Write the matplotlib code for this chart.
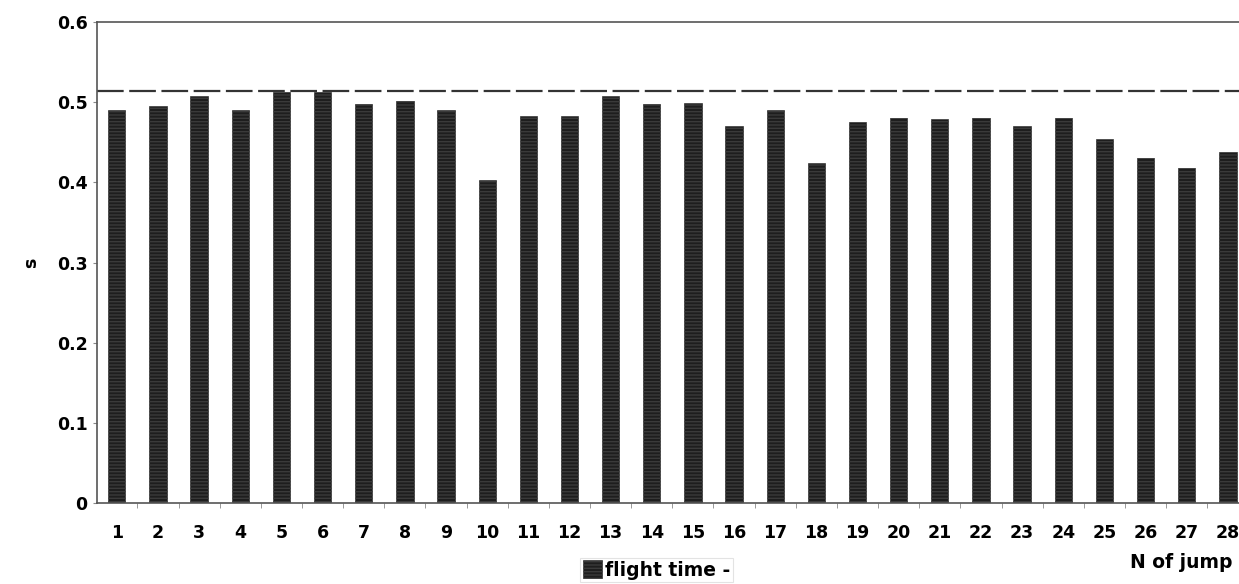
import numpy as np
import matplotlib.pyplot as plt

plt.rcParams['font.family'] = ['DejaVu Sans']
plt.rcParams['font.weight'] = 'bold'

# numero del salto e tempo di volo (s)
jumps = list(range(1, 29))
flight_time = [0.491, 0.495, 0.508, 0.490, 0.513, 0.513, 0.498, 0.501, 0.491, 0.403,
               0.483, 0.483, 0.508, 0.498, 0.499, 0.470, 0.490, 0.424, 0.475, 0.480,
               0.479, 0.480, 0.470, 0.481, 0.454, 0.430, 0.418, 0.438]
ref_level = 0.514

fig = plt.figure(figsize=(12.39, 5.84), dpi=100)
ax = fig.add_axes([0.078, 0.139, 0.922, 0.823])

bars = ax.bar(jumps, flight_time, width=0.42, color='#1e1e1e', edgecolor='#1e1e1e',
              linewidth=0.5, hatch='-----', label='flight time -')
for b in bars:
    b.set_edgecolor('#3a3a3a')
ax.axhline(ref_level, color='#333333', linewidth=1.6, linestyle=(0, (12, 2.5)))

ax.set_ylim(0, 0.6)
ax.set_xlim(0.51, 28.27)
ax.set_yticks([0, 0.1, 0.2, 0.3, 0.4, 0.5, 0.6])
ax.set_yticklabels(['0', '0.1', '0.2', '0.3', '0.4', '0.5', '0.6'])
ax.set_xticks(jumps)
ax.set_xticks(np.arange(1.5, 28, 1), minor=True)
ax.tick_params(axis='x', which='major', length=0, pad=15, labelsize=12.5)
ax.tick_params(axis='x', which='minor', length=3.5, direction='out', color='#888888')
ax.tick_params(axis='y', length=3, direction='out', color='#888888', labelsize=12.5, pad=3.5)

for s in ['left', 'top', 'bottom']:
    ax.spines[s].set_color('#555555')
    ax.spines[s].set_linewidth(1.2)
ax.spines['right'].set_visible(False)

ax.set_ylabel('s', fontsize=12.5, fontweight='bold', labelpad=12)
fig.text(0.995, 0.036, 'N of jump', ha='right', va='center', fontsize=13.5, fontweight='bold')

leg = fig.legend(handles=[bars], labels=['flight time -'], loc='center',
                 bbox_to_anchor=(0.530, 0.024), frameon=True, fontsize=13.5,
                 handlelength=1.05, handleheight=1.05, handletextpad=0.15,
                 borderpad=0.15, fancybox=False, edgecolor='#dddddd')
leg.get_frame().set_linewidth(0.8)

plt.savefig('out.png', dpi=100)
